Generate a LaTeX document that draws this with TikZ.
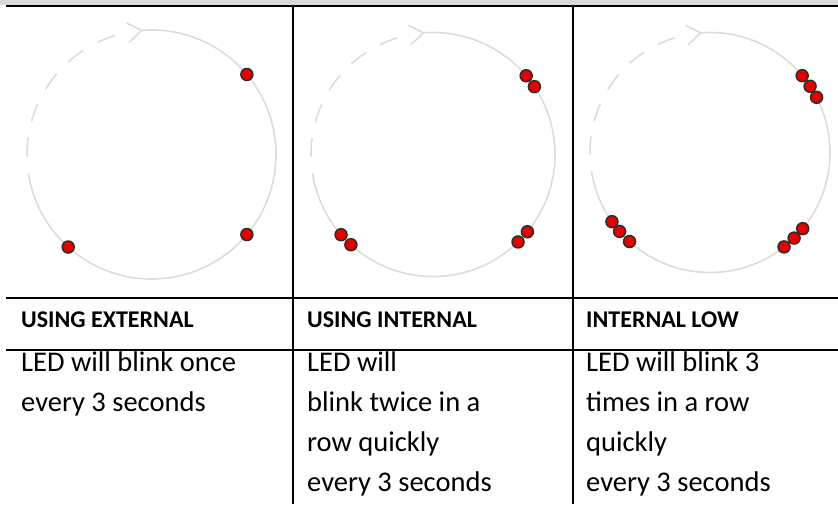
\documentclass[tikz,border=0pt]{standalone}
\usepackage{fontspec}
\setmainfont{Carlito}
\usetikzlibrary{calc}
\definecolor{ringgray}{RGB}{220,220,220}
\definecolor{bandgray}{RGB}{217,217,217}
\definecolor{ledred}{RGB}{232,0,0}
\definecolor{ledrim}{RGB}{45,45,45}
\begin{document}
\begin{tikzpicture}[x=1pt,y=-1pt,
  rule/.style={line width=2pt, black},
  ring/.style={draw=ringgray, line width=1.6pt},
  led/.style={circle, fill=ledred, draw=ledrim, line width=1.5pt, inner sep=0pt, minimum size=12pt},
  head/.style={anchor=base west, inner sep=0pt, font=\fontsize{24}{28}\selectfont\bfseries},
  body/.style={anchor=base west, inner sep=0pt, font=\fontsize{28.5}{40}\selectfont}]
\useasboundingbox (0,0) rectangle (838,504);
% table frame
\fill[bandgray] (0,0) rectangle (838,4.5);
\draw[rule] (6,5.5) -- (838,5.5);
\draw[rule] (6,297.5) -- (838,297.5);
\draw[rule] (6,349.5) -- (838,349.5);
\draw[rule] (293,5) -- (293,504);
\draw[rule] (572.5,5) -- (572.5,504);
% panel 1
\coordinate (c1) at (151.5,154.5);
\draw[ring] (c1) ++(-94.5:124.5) coordinate (t1) arc[start angle=-94.5, end angle=171.2, radius=124.5];
\draw[ring, dash pattern=on 19pt off 16.5pt] (c1) ++(-181:124.5) arc[start angle=-181, end angle=-107, radius=124.5];
\draw[ring] (t1) ++(-15,-7.5) -- (t1) -- ++(-12.5,12);
\node[led] (a1) at ($(c1)+(-40:124.5)$) {};
\node[led] (b1) at ($(c1)+(40:124.5)$) {};
\node[led] (d1) at ($(c1)+(-228:124.5)$) {};
% panel 2
\coordinate (c2) at (433,154.5);
\draw[ring] (c2) ++(-94.5:122) coordinate (t2) arc[start angle=-94.5, end angle=171.2, radius=122];
\draw[ring, dash pattern=on 18.6pt off 16.2pt] (c2) ++(-181:122) arc[start angle=-181, end angle=-107, radius=122];
\draw[ring] (t2) ++(-15,-7.5) -- (t2) -- ++(-12.5,12);
\node[led] (a2a) at ($(c2)+(-40.2:122)$) {};
\node[led] (a2b) at ($(c2)+(-33.8:122)$) {};
\node[led] (b2a) at ($(c2)+(39.3:122)$) {};
\node[led] (b2b) at ($(c2)+(45.8:122)$) {};
\node[led] (d2a) at ($(c2)+(-221.1:122)$) {};
\node[led] (d2b) at ($(c2)+(-227.7:122)$) {};
% panel 3
\coordinate (c3) at (710,152.5);
\draw[ring] (c3) ++(-94.5:120) coordinate (t3) arc[start angle=-94.5, end angle=171.2, radius=120];
\draw[ring, dash pattern=on 18.3pt off 15.9pt] (c3) ++(-181:120) arc[start angle=-181, end angle=-107, radius=120];
\draw[ring] (t3) ++(-15,-7.5) -- (t3) -- ++(-12.5,12);
\node[led] (a3a) at ($(c3)+(-39.8:120)$) {};
\node[led] (a3b) at ($(c3)+(-33.5:120)$) {};
\node[led] (a3c) at ($(c3)+(-27.4:120)$) {};
\node[led] (b3a) at ($(c3)+(39.4:120)$) {};
\node[led] (b3b) at ($(c3)+(45.5:120)$) {};
\node[led] (b3c) at ($(c3)+(51.9:120)$) {};
\node[led] (d3a) at ($(c3)+(-215.2:120)$) {};
\node[led] (d3b) at ($(c3)+(-221.1:120)$) {};
\node[led] (d3c) at ($(c3)+(-227.9:120)$) {};
% headers
\node[head] (h1) at (21,327) {USING EXTERNAL};
\node[head] (h2) at (307,327) {USING INTERNAL};
\node[head] (h3) at (586,327) {INTERNAL LOW};
% body
\node[body] (p1a) at (21,371) {LED will blink once};
\node[body] (p1b) at (21,411) {every 3 seconds};
\node[body] (p2a) at (307,371) {LED will};
\node[body] (p2b) at (307,411) {blink twice in a};
\node[body] (p2c) at (307,451) {row quickly};
\node[body] (p2d) at (307,491) {every 3 seconds};
\node[body] (p3a) at (586,371) {LED will blink 3};
\node[body] (p3b) at (586,411) {times in a row};
\node[body] (p3c) at (586,451) {quickly};
\node[body] (p3d) at (586,491) {every 3 seconds};
\end{tikzpicture}
\end{document}
